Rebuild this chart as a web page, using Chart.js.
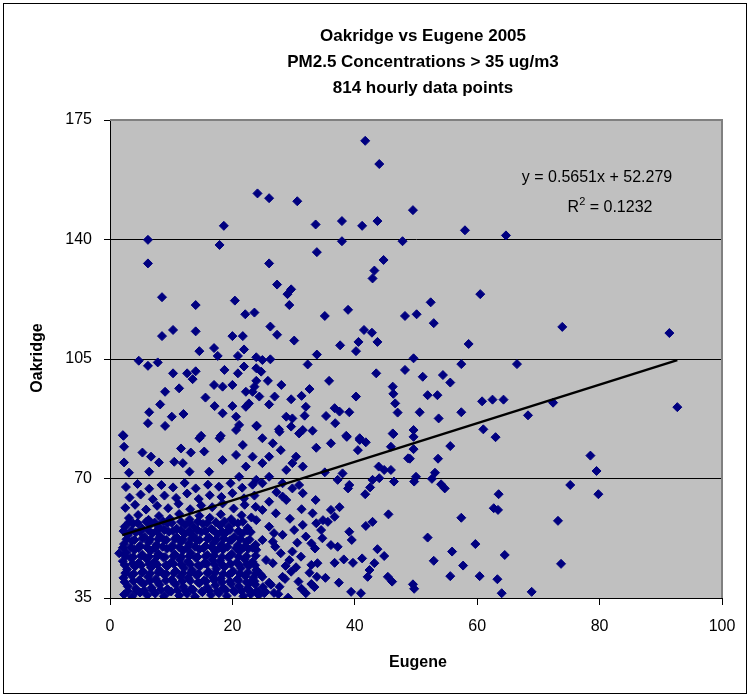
<!DOCTYPE html>
<html>
<head>
<meta charset="utf-8">
<script src="https://cdn.jsdelivr.net/npm/chart.js@4.4.0/dist/chart.umd.min.js"></script>
<style>
  body { margin: 0; background: #fff; }
</style>
</head>
<body>
<canvas id="grafica" width="750" height="700"></canvas>
<script>
// Titulos y ejes
const titleLines = ['Oakridge vs Eugene 2005', 'PM2.5 Concentrations > 35 ug/m3', '814 hourly data points'];
const xTitle = 'Eugene';
const yTitle = 'Oakridge';
const xTicks = [0, 20, 40, 60, 80, 100];
const yTicks = [35, 70, 105, 140, 175];

// Linea de tendencia (ecuacion del grafico)
const slope = 0.5651;
const intercept = 52.279;
const rSquared = '0.1232';
const trendFrom = 2.0;
const trendTo = 92.7;

// Puntos sueltos [Eugene, Oakridge]
const sparsePoints = [
  [6.2,139.9],[6.2,133.0],[18.6,144.0],[17.9,138.4],[24.1,153.5],
  [41.7,168.9],[44.0,162.1],[26.0,152.1],[30.6,151.2],[33.6,144.4],[37.9,145.4],[41.2,144.0],[43.7,145.4],
  [37.9,139.5],[47.8,139.5],[33.8,136.3],[26.0,133.0],[44.7,134.0],[43.2,130.9],[42.9,128.6],
  [49.5,148.6],[58.0,142.7],[64.7,141.2],
  [8.5,123.1],[14.0,120.8],[20.4,122.1],[22.1,118.1],[23.6,118.6],[8.5,111.7],[10.3,113.5],[14.0,113.1],
  [20.0,111.7],[21.7,111.7],[14.6,107.3],[17.0,108.2],[17.6,105.9],[20.9,105.9],[21.9,107.8],[23.9,105.5],
  [4.7,104.5],[6.2,103.0],[7.8,104.0],[10.3,100.8],[12.6,100.8],[14.0,101.4],[13.5,99.1],[18.7,101.8],
  [21.9,102.8],[23.9,102.3],[20.9,100.8],[17.0,97.4],[18.4,96.9],[20.0,97.4],[22.2,95.4],[23.6,96.9],
  [9.0,95.4],[11.3,96.4],[15.6,93.7],[8.2,91.7],[17.1,91.2],[20.0,91.2],[22.2,91.0],[6.4,89.4],[10.1,88.1],
  [12.0,88.9],[18.4,89.1],[20.6,88.1],[6.2,86.2],[9.0,85.4],[21.1,85.7],[23.9,85.4],[2.2,82.5],[14.9,82.5],[18.1,82.5],
  [27.3,126.8],[29.6,125.4],[29.0,124.0],[29.3,120.8],[38.9,119.4],[35.1,117.6],[48.2,117.6],[26.2,114.5],
  [27.3,112.1],[30.1,110.4],[41.5,113.5],[42.8,112.7],[43.7,110.0],[37.6,109.0],[40.6,110.0],[40.2,107.3],
  [33.8,106.3],[24.9,104.7],[26.2,104.9],[32.3,103.4],[24.7,101.3],[43.5,100.8],[48.2,101.8],[25.8,98.6],
  [23.9,98.6],[35.8,98.6],[28.0,97.4],[32.6,96.2],[46.2,96.9],[23.3,95.4],[24.4,94.0],[26.9,94.0],[29.6,93.2],
  [31.3,94.2],[40.2,94.0],[46.3,94.8],[26.0,91.7],[32.0,91.0],[46.6,92.0],[36.7,90.6],[37.5,89.6],[39.1,89.4],
  [35.3,88.3],[31.8,88.4],[28.8,88.1],[29.8,87.6],[47.0,89.3],[36.8,86.2],[29.6,85.2],[31.5,84.2],[33.1,84.0],
  [27.6,84.4],[24.0,85.4],[38.6,82.5],[46.2,83.2],[40.8,81.8],[22.7,92.0],
  [52.4,121.6],[60.5,124.0],[50.1,118.1],[52.9,115.5],[73.9,114.4],[91.4,112.6],[58.6,109.4],[49.6,105.2],
  [57.4,103.5],[66.5,103.5],[51.1,99.8],[54.4,100.3],[55.6,98.1],[51.9,94.4],[53.5,94.4],[60.8,92.6],
  [62.5,93.1],[64.3,93.1],[72.4,92.2],[92.7,90.9],[50.6,89.4],[53.7,87.6],[57.4,89.4],[68.3,88.5],
  [49.6,84.2],[61.0,84.4],[63.0,82.1],[49.6,82.2],
  [49.6,78.6],[55.6,79.5],[49.0,75.8],[53.6,75.8],[78.5,76.7],[79.5,72.2],[79.8,65.4],[75.2,68.1],
  [50.0,70.5],[49.7,69.1],[52.6,69.9],[53.1,71.7],[54.1,68.3],[54.7,67.1],[63.5,65.4],[62.7,61.3],
  [63.4,60.8],[57.4,58.5],[73.2,57.6],[51.9,52.7],[59.7,50.8],[55.9,48.6],[64.5,47.6],[52.9,45.9],
  [57.7,44.5],[73.7,45.0],[55.6,41.4],[60.4,41.4],[63.3,40.5],[49.5,39.0],[49.7,37.7],[64.0,36.4],[68.9,36.8],
  [26.3,38.9],[27.5,36.1],[29.1,35.1],[31.3,37.7],[33.4,38.2],
  [38.7,82.2],[46.3,83.0],[33.7,79.0],[36.1,80.3],[40.8,81.3],[41.8,80.6],[40.5,78.3],[45.9,79.3],[48.7,75.9],
  [35.1,71.8],[38.0,71.5],[37.2,69.6],[39.1,68.1],[38.9,67.1],[43.9,73.5],[44.8,72.5],[45.9,72.5],[42.9,69.6],
  [44.0,70.1],[46.4,69.1],[42.5,67.4],[41.7,65.4],[33.6,63.7],[37.5,61.6],[36.1,60.8],[45.5,59.5],[36.7,58.8],
  [33.1,59.8],[42.9,57.3],[41.8,56.1],[34.8,57.8],[33.7,56.9],[35.6,57.3],[39.1,54.4],[39.5,52.0],[34.5,54.9],
  [34.7,52.5],[31.5,56.4],[30.1,54.9],[28.2,53.5],[32.0,53.0],[32.9,51.0],[36.1,50.5],[37.2,50.0],[43.7,49.3],
  [44.8,47.3],[43.2,45.2],[41.2,46.6],[39.7,45.3],[42.4,43.2],[42.1,41.2],[38.2,46.3],[36.7,45.3],[35.2,40.9],
  [37.4,39.5],[39.4,36.8],[41.0,36.4],[45.4,41.2],[46.1,39.8],[32.9,44.7],[33.9,45.2],[32.6,42.4],[30.8,39.8],
  [32.9,39.1],[32.0,36.4],[29.6,42.7],[28.2,41.2],[26.0,39.5],[27.7,38.3],[23.9,36.8],[25.2,36.4],[31.2,47.1],
  [29.8,48.6],[29.3,46.1],[27.9,48.1],[31.5,65.7],[29.8,67.1],[30.9,68.1],[28.2,68.6],[28.8,63.7],[30.4,76.4],
  [31.5,73.5],[29.8,74.5],[27.9,78.3],[30.9,83.2],[27.7,83.7],[28.8,72.5],[26.0,70.5],[24.9,68.6],[23.9,69.6],
  [26.6,80.3],[24.9,81.8],[26.0,76.4],[24.9,74.5],[28.2,64.7],[26.0,63.2],[27.1,59.8],[24.9,60.8],[23.9,57.8],
  [26.0,55.9],[24.9,52.0],[26.6,51.5],[23.9,49.1],[25.5,46.1],[26.6,45.2],[23.9,43.2],[24.9,41.2],[22.8,39.3],
  [2.1,82.7],[2.3,79.3],[5.3,77.6],[6.7,76.4],[2.3,74.7],[8.0,74.7],[6.4,72.0],[3.1,71.7],[11.6,78.8],
  [13.2,77.6],[14.6,81.8],[15.4,77.9],[10.5,74.9],[11.9,74.5],[13.0,72.0],[16.2,72.0],[18.4,75.4],[17.9,81.8],
  [20.6,84.2],[21.7,79.8],[20.6,76.9],[23.3,76.4],[22.2,73.5],[21.1,70.5],[1.5,48.1],
  [26.8,36.5],[28.6,40.6],[30.4,44.0],[33.8,41.2],[27.0,50.0],[28.7,44.4],[30.6,51.2],[33.5,49.5],
  [26.8,54.0],[29.4,58.2],[31.3,61.0],[27.2,66.0]
];

// Zona densa abajo a la izquierda [Eugene, Oakridge]
const densePoints = [
  [2.3,36.0],[3.6,35.4],[4.9,36.6],[6.1,35.8],[7.4,36.3],[8.8,35.5],[10.0,36.9],[11.3,35.7],[12.6,36.2],
  [13.9,35.4],[15.1,36.7],[16.5,35.9],[17.8,36.4],[19.1,35.6],[20.4,36.8],[21.8,35.5],[23.0,36.1],[24.3,35.8],
  [2.9,38.4],[4.2,37.8],[5.5,39.2],[6.8,38.0],[8.1,38.9],[9.4,37.6],[10.7,39.0],[12.0,38.3],[13.3,37.7],
  [14.6,39.3],[15.9,38.1],[17.2,38.7],[18.5,37.9],[19.8,39.1],[21.1,38.4],[22.4,37.7],[23.7,39.0],[25.0,38.2],
  [2.2,40.9],[3.5,41.6],[4.8,40.3],[6.2,41.2],[7.5,40.6],[8.8,41.9],[10.1,40.4],[11.5,41.3],[12.8,40.8],
  [14.1,41.7],[15.4,40.2],[16.8,41.1],[18.1,40.7],[19.4,41.8],[20.8,40.5],[22.1,41.4],[23.4,40.9],[24.6,41.9],
  [2.8,43.4],[4.1,44.2],[5.4,42.8],[6.7,43.9],[8.1,43.1],[9.4,44.4],[10.7,42.9],[12.1,43.8],[13.4,43.2],
  [14.7,44.3],[16.1,42.7],[17.4,43.6],[18.7,44.1],[20.1,42.9],[21.4,43.8],[22.7,44.4],[24.0,43.0],
  [2.1,45.8],[3.4,46.7],[4.7,45.3],[6.0,46.4],[7.3,45.6],[8.7,46.9],[10.0,45.4],[11.4,46.3],[12.7,45.7],
  [14.0,46.8],[15.4,45.2],[16.7,46.1],[18.0,45.9],[19.3,46.9],[20.7,45.4],[22.0,46.3],[23.3,45.6],
  [2.7,48.3],[4.0,49.1],[5.3,47.7],[6.6,48.8],[7.9,48.0],[9.3,49.4],[10.6,47.8],[11.9,48.9],[13.2,48.2],
  [14.6,49.3],[15.9,47.6],[17.2,48.6],[18.5,49.2],[19.9,47.9],[21.2,48.7],[22.6,49.4],
  [2.3,50.8],[3.6,51.7],[4.9,50.3],[6.3,51.3],[7.6,50.6],[8.9,51.9],[10.2,50.4],[11.6,51.4],[12.9,50.9],
  [14.2,51.8],[15.6,50.2],[16.9,51.2],[18.2,50.7],[19.6,51.9],[20.9,50.5],[22.3,51.5],[23.8,50.6],
  [2.9,53.4],[4.2,54.2],[5.6,52.9],[6.9,53.9],[8.2,53.1],[9.6,54.4],[10.9,52.8],[12.2,53.7],[13.6,53.2],
  [14.9,54.3],[16.2,52.7],[17.6,53.6],[18.9,54.1],[20.3,52.9],[21.6,53.8],[23.0,54.3],
  [2.4,55.9],[3.8,56.8],[5.2,55.4],[6.6,56.5],[8.0,55.7],[9.4,56.9],[10.9,55.3],[12.3,56.4],[13.7,55.8],
  [15.2,56.7],[16.6,55.2],[18.0,56.2],[19.4,55.8],[20.9,56.9],[22.5,55.5],
  [3.1,58.4],[4.6,59.3],[6.3,57.9],[8.0,59.0],[9.8,58.2],[11.3,59.6],[13.0,58.0],[14.6,59.1],[16.3,58.5],
  [18.1,59.5],[19.8,58.1],[21.5,59.2],[23.1,58.6],
  [2.5,61.4],[4.1,62.3],[5.9,60.9],[7.7,62.0],[9.5,61.3],[11.2,62.6],[13.1,61.0],[14.9,62.1],[16.7,61.6],
  [18.4,62.7],[20.2,61.2],[22.0,62.3],[23.8,61.7],
  [3.2,64.4],[5.0,65.3],[7.0,63.9],[8.9,65.0],[10.8,64.3],[12.6,65.6],[14.5,64.0],[16.3,65.1],[18.2,64.6],
  [20.0,65.7],[21.9,64.2],[23.6,65.0],
  [2.6,67.5],[4.5,68.4],[6.4,67.0],[8.4,68.1],[10.3,67.4],[12.2,68.7],[14.0,67.1],[16.0,68.2],[17.8,67.6],
  [19.7,68.6],[21.6,67.3],[23.3,68.2]
];

// Mas puntos en la franja mas cargada (35 a 58)
const densePoints2 = [
  [2.9,37.0],[4.3,36.9],[5.6,37.3],[7.0,37.1],[8.3,37.4],[9.6,36.9],[11.0,37.3],[12.3,37.0],[13.6,37.4],
  [15.0,36.9],[16.2,37.2],[17.5,37.0],[18.9,37.4],[20.2,37.1],[21.5,37.0],[22.8,37.3],[24.2,37.0],[25.4,36.8],
  [2.4,39.7],[3.8,39.9],[5.1,39.6],[6.5,40.0],[7.8,39.7],[9.1,40.1],[10.4,39.6],[11.8,39.9],[13.1,40.0],
  [14.4,39.6],[15.7,39.9],[17.0,40.2],[18.3,39.6],[19.6,39.9],[21.0,40.1],[22.3,39.6],[23.6,39.9],
  [2.5,42.3],[3.9,42.1],[5.2,42.4],[6.6,42.2],[7.9,42.5],[9.2,42.1],[10.5,42.4],[11.9,42.2],[13.2,42.5],
  [14.5,42.1],[15.9,42.3],[17.2,42.4],[18.5,42.1],[19.9,42.4],[21.2,42.2],[22.5,42.5],[23.8,42.2],
  [2.4,44.7],[3.7,45.0],[5.1,44.6],[6.4,44.9],[7.7,44.8],[9.1,44.6],[10.4,45.0],[11.7,44.7],[13.1,44.9],
  [14.4,44.6],[15.8,44.9],[17.1,44.8],[18.4,44.6],[19.7,45.0],[21.1,44.7],[22.4,44.9],[23.7,44.6],
  [2.5,47.2],[3.8,47.0],[5.1,47.3],[6.4,47.1],[7.7,47.2],[9.0,47.0],[10.4,47.3],[11.7,47.1],[13.0,47.3],
  [14.3,47.0],[15.6,47.2],[17.0,47.4],[18.3,47.0],[19.6,47.3],[21.0,47.1],[22.3,47.2],[23.8,47.4],
  [2.1,49.7],[3.4,49.9],[4.7,49.6],[6.0,49.9],[7.3,49.7],[8.6,50.0],[10.0,49.6],[11.3,49.9],[12.6,49.7],
  [13.9,50.0],[15.3,49.6],[16.6,49.9],[17.9,49.7],[19.2,50.0],[20.6,49.6],[21.9,49.9],[23.3,49.7],
  [2.7,52.2],[4.0,52.0],[5.3,52.4],[6.6,52.1],[7.9,52.3],[9.2,52.0],[10.6,52.3],[11.9,52.1],[13.3,52.4],
  [14.6,52.0],[15.9,52.3],[17.3,52.1],[18.6,52.4],[19.9,52.0],[21.3,52.3],[22.8,52.1],
  [2.2,54.6],[3.5,54.8],[4.9,54.5],[6.2,54.9],[7.6,54.6],[8.9,54.9],[10.3,54.6],[11.6,54.8],[12.9,54.5],
  [14.3,54.9],[15.6,54.6],[16.9,54.8],[18.3,54.5],[19.6,54.9],[21.0,54.6],[22.4,54.8],
  [3.1,57.2],[4.5,57.0],[5.9,57.3],[7.3,57.1],[8.7,57.4],[10.1,57.0],[11.6,57.3],[13.0,57.1],[14.4,57.4],
  [15.9,57.0],[17.3,57.2],[18.7,57.4],[20.2,57.1],[21.7,57.3]
];

const colorPunto = '#000080';
const fuente = '"Liberation Sans", Arial, sans-serif';

// Construir los puntos del scatter
let puntos = sparsePoints.concat(densePoints, densePoints2).map(p => ({ x: p[0], y: p[1] }));

const trendData = [
    { x: trendFrom, y: slope * trendFrom + intercept },
    { x: trendTo, y: slope * trendTo + intercept }
];

// Plugin para fondo, titulos y ecuacion
const decoracion = {
    id: 'decoracion',
    beforeDraw(chart) {
        const c = chart.ctx;
        const a = chart.chartArea;
        c.save();
        c.fillStyle = '#ffffff';
        c.fillRect(0, 0, chart.width, chart.height);
        c.fillStyle = '#c0c0c0';
        c.fillRect(a.left, a.top, a.right - a.left, a.bottom - a.top);
        c.restore();
    },
    afterDraw(chart) {
        const c = chart.ctx;
        const a = chart.chartArea;
        c.save();
        // borde del area de trazado (arriba y derecha)
        c.strokeStyle = '#808080';
        c.lineWidth = 2;
        c.beginPath();
        c.moveTo(a.left, a.top);
        c.lineTo(a.right, a.top);
        c.lineTo(a.right, a.bottom);
        c.stroke();
        // borde exterior
        c.strokeStyle = '#000000';
        c.lineWidth = 1;
        c.strokeRect(3.5, 3.5, 743, 690);

        c.fillStyle = '#000000';
        c.textAlign = 'center';
        c.textBaseline = 'middle';
        c.font = 'bold 17px ' + fuente;
        titleLines.forEach((t, i) => c.fillText(t, 423, 36 + i * 26));

        c.font = 'bold 16px ' + fuente;
        c.fillText(xTitle, 418, 663);
        c.save();
        c.translate(38, 358);
        c.rotate(-Math.PI / 2);
        c.fillText(yTitle, 0, 0);
        c.restore();

        // ecuacion de la tendencia
        c.font = '16px ' + fuente;
        const eq = 'y = ' + slope + 'x + ' + intercept;
        c.fillText(eq, 597, 178);
        const r1 = 'R';
        const r2 = ' = ' + rSquared;
        const w1 = c.measureText(r1).width;
        const w2 = c.measureText(r2).width;
        c.font = '11px ' + fuente;
        const ws = c.measureText('2').width;
        const x0 = 610 - (w1 + ws + w2) / 2;
        c.textAlign = 'left';
        c.font = '16px ' + fuente;
        c.fillText(r1, x0, 208);
        c.font = '11px ' + fuente;
        c.fillText('2', x0 + w1, 202);
        c.font = '16px ' + fuente;
        c.fillText(r2, x0 + w1 + ws, 208);
        c.restore();
    }
};

const ctx = document.getElementById('grafica').getContext('2d');
const chart = new Chart(ctx, {
    type: 'scatter',
    data: {
        datasets: [{
            label: 'Trend',
            data: trendData,
            showLine: true,
            borderColor: '#000000',
            borderWidth: 2.5,
            pointRadius: 0,
            order: 0
        }, {
            label: 'Oakridge',
            data: puntos,
            pointStyle: 'rectRot',
            pointRadius: 4.5,
            pointBackgroundColor: colorPunto,
            pointBorderColor: colorPunto,
            pointBorderWidth: 1,
            order: 1
        }]
    },
    options: {
        responsive: false,
        animation: false,
        layout: { padding: { top: 120, right: 28, left: 0, bottom: 0 } },
        plugins: {
            legend: { display: false },
            title: { display: false },
            tooltip: { enabled: false }
        },
        scales: {
            x: {
                type: 'linear',
                min: 0,
                max: 100,
                afterBuildTicks: s => { s.ticks = xTicks.map(v => ({ value: v })); },
                afterFit: s => { s.height = 102; },
                ticks: { color: '#000', font: { family: fuente, size: 16 }, padding: 12 },
                grid: { drawOnChartArea: false, tickLength: 7, color: '#000' },
                border: { color: '#000', width: 1 }
            },
            y: {
                min: 35,
                max: 175,
                afterBuildTicks: s => { s.ticks = yTicks.map(v => ({ value: v })); },
                afterFit: s => { s.width = 110; },
                ticks: { color: '#000', font: { family: fuente, size: 16 }, padding: 12 },
                grid: { tickLength: 6, color: '#000' },
                border: { color: '#000', width: 1 }
            }
        }
    },
    plugins: [decoracion]
});
</script>
</body>
</html>
